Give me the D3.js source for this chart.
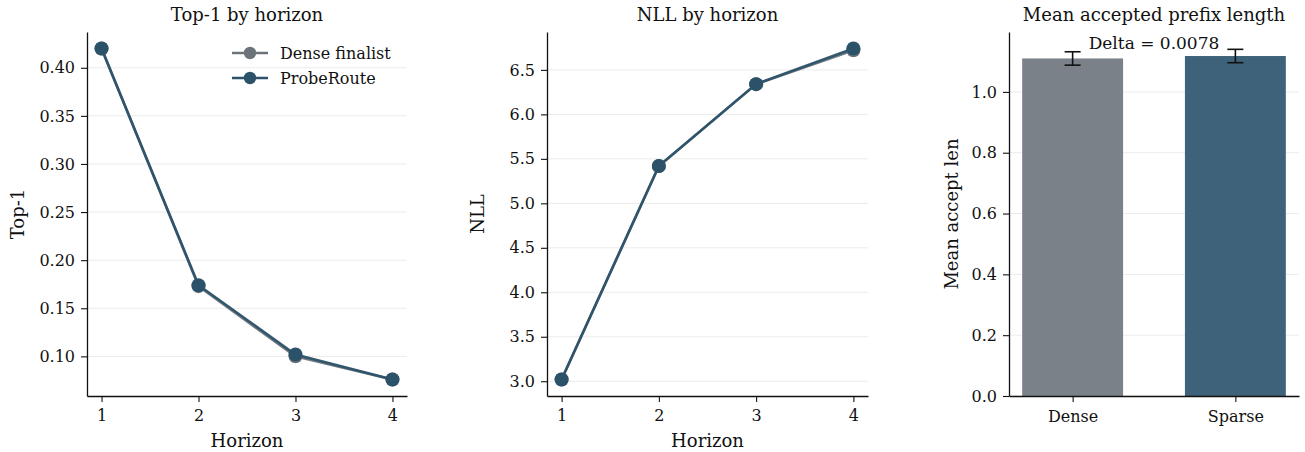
<!DOCTYPE html>
<html><head><meta charset="utf-8">
<script src="https://cdn.jsdelivr.net/npm/d3@7"></script>
<style>
body{margin:0;background:#fff;}
svg text{font-family:"DejaVu Serif",serif;fill:#111;}
</style></head><body>
<svg id="c" width="1305" height="452"></svg>
<script>
const horizons = [1, 2, 3, 4];
const seriesNames = ["Dense finalist", "ProbeRoute"];
const top1Dense = [0.420, 0.173, 0.100, 0.076];
const top1Probe = [0.420, 0.174, 0.102, 0.076];
const nllDense = [3.02, 5.42, 6.34, 6.72];
const nllProbe = [3.02, 5.42, 6.34, 6.74];
const barCats = ["Dense", "Sparse"];
const barVals = [1.110, 1.118];
const barErr = [0.022, 0.022];
const top1Ticks = [0.10, 0.15, 0.20, 0.25, 0.30, 0.35, 0.40];
const nllTicks = [3.0, 3.5, 4.0, 4.5, 5.0, 5.5, 6.0, 6.5];
const barTicks = [0.0, 0.2, 0.4, 0.6, 0.8, 1.0];
const deltaText = "Delta = 0.0078";

const lineColors = ["#6c737a", "#2b5269"];
const barColors = ["#7a8189", "#3e6279"];
const svg = d3.select("#c");
const yTop = 32, yBot = 396;

function styleAxis(g){
  g.selectAll(".domain").attr("stroke","#111").attr("stroke-width",1.3);
  g.selectAll(".tick line").attr("stroke","#111").attr("stroke-width",1.1);
  g.selectAll(".tick text").attr("font-size","16px").attr("fill","#111");
}

function linePanel(x0, x1, data, ticks, fmt, title, ylab, legend){
  const x = d3.scaleLinear().domain([0.85, 4.15]).range([x0, x1]);
  const all = data.flat();
  const mn = d3.min(all), mx = d3.max(all), pad = (mx-mn)*0.05;
  const y = d3.scaleLinear().domain([mn-pad, mx+pad]).range([yBot, yTop]);
  const g = svg.append("g");
  g.selectAll("line.grid").data(ticks).join("line")
    .attr("x1",x0).attr("x2",x1).attr("y1",d=>y(d)).attr("y2",d=>y(d))
    .attr("stroke","#ebebeb").attr("stroke-width",1);
  const gx = g.append("g").attr("transform",`translate(0,${yBot})`)
    .call(d3.axisBottom(x).tickValues(horizons).tickFormat(d3.format("d")).tickSize(6).tickPadding(8).tickSizeOuter(0));
  styleAxis(gx);
  const gy = g.append("g").attr("transform",`translate(${x0},0)`)
    .call(d3.axisLeft(y).tickValues(ticks).tickFormat(fmt).tickSize(6).tickPadding(6).tickSizeOuter(0));
  styleAxis(gy);
  const ln = d3.line().x((d,i)=>x(horizons[i])).y(d=>y(d));
  data.forEach((s,k)=>{
    g.append("path").datum(s).attr("d",ln).attr("fill","none")
      .attr("stroke",lineColors[k]).attr("stroke-width",2.6).attr("opacity",0.95);
    g.selectAll(null).data(s).join("circle")
      .attr("cx",(d,i)=>x(horizons[i])).attr("cy",d=>y(d)).attr("r",7)
      .attr("fill",lineColors[k]);
  });
  g.append("text").attr("x",(x0+x1)/2).attr("y",21).attr("text-anchor","middle")
    .attr("font-size","18px").text(title);
  g.append("text").attr("x",(x0+x1)/2).attr("y",447).attr("text-anchor","middle")
    .attr("font-size","18px").text("Horizon");
  g.append("text").attr("transform",`translate(${x0-63},${(yTop+yBot)/2}) rotate(-90)`)
    .attr("text-anchor","middle").attr("font-size","18px").text(ylab);
  if(legend){
    seriesNames.forEach((n,k)=>{
      const ly = 53 + k*25;
      g.append("line").attr("x1",232).attr("x2",268).attr("y1",ly).attr("y2",ly)
        .attr("stroke",lineColors[k]).attr("stroke-width",2.6);
      g.append("circle").attr("cx",250).attr("cy",ly).attr("r",6.2).attr("fill",lineColors[k]);
      g.append("text").attr("x",280).attr("y",ly+5.5).attr("font-size","16px").text(n);
    });
  }
}

linePanel(87, 407, [top1Dense, top1Probe], top1Ticks, d3.format(".2f"), "Top-1 by horizon", "Top-1", true);
linePanel(547, 868, [nllDense, nllProbe], nllTicks, d3.format(".1f"), "NLL by horizon", "NLL", false);

// bar panel
(function(){
  const x0 = 1009, x1 = 1299;
  const w = 0.62;
  const lo = -w/2 - 0.05*(1+w), hi = 1 + w/2 + 0.05*(1+w);
  const x = d3.scaleLinear().domain([lo, hi]).range([x0, x1]);
  const ymax = d3.max(barVals.map((v,i)=>v+barErr[i]))*1.05;
  const y = d3.scaleLinear().domain([0, ymax]).range([yBot, yTop]);
  const g = svg.append("g");
  g.selectAll("line.grid").data(barTicks).join("line")
    .attr("x1",x0).attr("x2",x1).attr("y1",d=>y(d)).attr("y2",d=>y(d))
    .attr("stroke","#ebebeb").attr("stroke-width",1);
  g.selectAll("rect").data(barVals).join("rect")
    .attr("x",(d,i)=>x(i-w/2)).attr("width",x(w)-x(0))
    .attr("y",d=>y(d)).attr("height",d=>y(0)-y(d))
    .attr("fill",(d,i)=>barColors[i]);
  barVals.forEach((v,i)=>{
    const cx = x(i);
    g.append("line").attr("x1",cx).attr("x2",cx).attr("y1",y(v-barErr[i])).attr("y2",y(v+barErr[i])).attr("stroke","#111").attr("stroke-width",1.6);
    [v-barErr[i], v+barErr[i]].forEach(e=>{
      g.append("line").attr("x1",cx-8).attr("x2",cx+8).attr("y1",y(e)).attr("y2",y(e)).attr("stroke","#111").attr("stroke-width",1.6);
    });
  });
  const gx = g.append("g").attr("transform",`translate(0,${yBot})`)
    .call(d3.axisBottom(x).tickValues([0,1]).tickFormat(i=>barCats[i]).tickSize(6).tickPadding(9).tickSizeOuter(0));
  styleAxis(gx);
  const gy = g.append("g").attr("transform",`translate(${x0},0)`)
    .call(d3.axisLeft(y).tickValues(barTicks).tickFormat(d3.format(".1f")).tickSize(6).tickPadding(6).tickSizeOuter(0));
  styleAxis(gy);
  g.append("text").attr("x",(x0+x1)/2).attr("y",21).attr("text-anchor","middle")
    .attr("font-size","18px").text("Mean accepted prefix length");
  g.append("text").attr("x",(x0+x1)/2).attr("y",49).attr("text-anchor","middle")
    .attr("font-size","17px").text(deltaText);
  g.append("text").attr("transform",`translate(${x0-51},${(yTop+yBot)/2}) rotate(-90)`)
    .attr("text-anchor","middle").attr("font-size","18px").text("Mean accept len");
})();
</script>
</body></html>
